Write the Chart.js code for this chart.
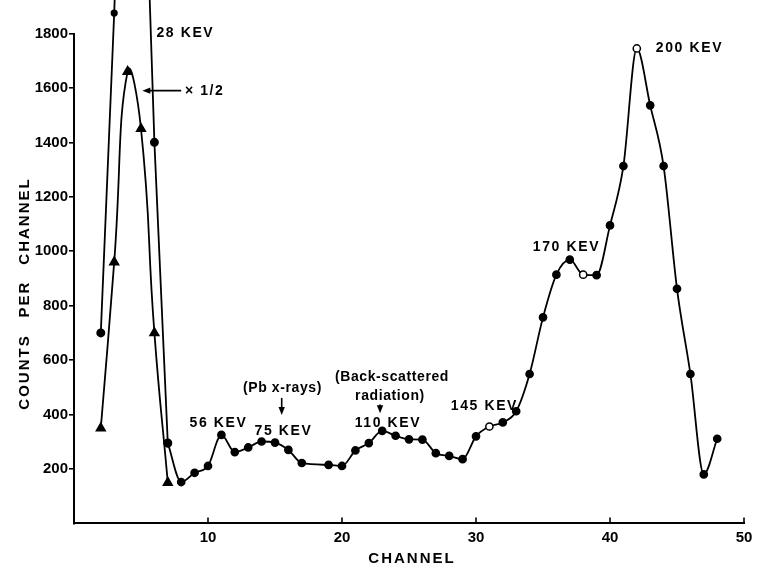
<!DOCTYPE html>
<html><head><meta charset="utf-8">
<script src="https://cdn.jsdelivr.net/npm/chart.js@4/dist/chart.umd.min.js"></script>
<style>html,body{margin:0;padding:0;background:#fff}#wrap{width:760px;height:572px}</style>
</head><body><div id="wrap"><canvas id="c" width="760" height="572"></canvas></div>
<script>
// ---- data ----
const channels = [2,3,4,5,6,7,8,9,10,11,12,13,14,15,16,17,19,20,21,22,23,24,25,26,27,28,29,30,31,32,33,34,35,36,37,38,39,40,41,42,43,44,45,46,47,48];
const counts   = [700,1875,3300,2900,1400,295,152,186,211,325,262,279,301,297,270,222,215,211,268,295,340,322,309,308,258,248,236,320,356,371,412,549,757,914,969,914,912,1095,1313,1745,1536,1313,862,549,180,311];
const halfChannels = [2,3,4,5,6,7];
const halfCounts   = [350,960,1660,1450,700,150];
const xTickValues = [10,20,30,40,50];
const yTickValues = [200,400,600,800,1000,1200,1400,1600,1800];
const openMarkerChannels = [31,38,42];
const peakLabels = [
  {text:'28 KEV', ch:6.15, v:1802, align:'left'},
  {text:'56 KEV', ch:10.78, v:369, align:'center'},
  {text:'75 KEV', ch:15.63, v:339, align:'center'},
  {text:'(Pb x-rays)', ch:15.56, v:497, align:'center'},
  {text:'(Back-scattered', ch:23.73, v:538, align:'center'},
  {text:'radiation)', ch:23.58, v:468, align:'center'},
  {text:'110 KEV', ch:23.43, v:369, align:'center'},
  {text:'145 KEV', ch:30.63, v:432, align:'center'},
  {text:'170 KEV', ch:36.75, v:1016, align:'center'},
  {text:'200 KEV', ch:45.93, v:1747, align:'center'},
  {text:'× 1/2', ch:8.28, v:1590, align:'left'}
];
// arrows: [fromCh, fromV, toCh, toV]
const arrows = [
  [8.0,1590,5.1,1590],
  [15.5,461,15.5,398],
  [22.84,437,22.84,405]
];

const FONT = '"Liberation Sans", Arial, sans-serif';
const pts = (xs, ys) => xs.map((x,i)=>({x:x, y:ys[i]}));
const all = pts(channels, counts);
const splitIdx = channels.indexOf(7);
const leftPart = all.slice(0, splitIdx+1);
const mainPart = all.slice(splitIdx);

const overlay = {
  id:'overlay',
  afterDatasetsDraw(chart){
    // markers that sit above the top of the y axis (Chart.js skips them)
    const {ctx, chartArea:a} = chart;
    ctx.save(); ctx.fillStyle = '#000';
    chart.getDatasetMeta(0).data.forEach(el=>{
      if (el.y < a.top && el.y > -4) { ctx.beginPath(); ctx.arc(el.x, el.y, 3.6, 0, Math.PI*2); ctx.fill(); }
    });
    ctx.restore();
  },
  afterDraw(chart){
    const {ctx, chartArea:a, scales:{x, y}} = chart;
    ctx.save();
    ctx.strokeStyle = '#000'; ctx.fillStyle = '#000';
    ctx.lineWidth = 1.6;
    xTickValues.forEach(v=>{
      const px = x.getPixelForValue(v);
      ctx.beginPath(); ctx.moveTo(px, a.bottom); ctx.lineTo(px, a.bottom-6); ctx.stroke();
    });
    ctx.font = 'bold 14px ' + FONT;
    ctx.textBaseline = 'middle';
    peakLabels.forEach(l=>{
      ctx.letterSpacing = /[a-z]/.test(l.text) ? '0.6px' : '1.6px';
      ctx.textAlign = l.align;
      ctx.fillText(l.text, x.getPixelForValue(l.ch), y.getPixelForValue(l.v));
    });
    ctx.lineWidth = 1.6;
    arrows.forEach(([c1,v1,c2,v2])=>{
      const x1=x.getPixelForValue(c1), y1=y.getPixelForValue(v1), x2=x.getPixelForValue(c2), y2=y.getPixelForValue(v2);
      const ang = Math.atan2(y2-y1, x2-x1);
      ctx.beginPath(); ctx.moveTo(x1,y1); ctx.lineTo(x2-Math.cos(ang)*4, y2-Math.sin(ang)*4); ctx.stroke();
      ctx.beginPath();
      ctx.moveTo(x2,y2);
      ctx.lineTo(x2-Math.cos(ang)*8+Math.sin(ang)*3.2, y2-Math.sin(ang)*8-Math.cos(ang)*3.2);
      ctx.lineTo(x2-Math.cos(ang)*8-Math.sin(ang)*3.2, y2-Math.sin(ang)*8+Math.cos(ang)*3.2);
      ctx.closePath(); ctx.fill();
    });
    ctx.font = 'bold 15px ' + FONT;
    ctx.letterSpacing = '2px';
    ctx.textAlign = 'center';
    ctx.fillText('CHANNEL', 412, a.bottom + 35);
    ctx.save();
    ctx.translate(25, 0);
    ctx.rotate(-Math.PI/2);
    ctx.fillText('CHANNEL', -221, 0);
    ctx.fillText('PER', -299, 0);
    ctx.fillText('COUNTS', -372, 0);
    ctx.restore();
    ctx.restore();
  }
};

new Chart(document.getElementById('c'), {
  type:'line',
  data:{
    datasets:[
      {data:leftPart, borderColor:'#000', borderWidth:1.8, tension:0, pointRadius:3.6,
       pointBackgroundColor:'#000', pointBorderColor:'#000', clip:{left:5,top:40,right:5,bottom:5}},
      {data:mainPart, borderColor:'#000', borderWidth:1.8, cubicInterpolationMode:'monotone', pointRadius:3.6,
       pointBorderColor:'#000', pointBorderWidth:1.5,
       pointBackgroundColor: c => (c.raw && openMarkerChannels.includes(c.raw.x)) ? '#fff' : '#000'},
      {data:pts(halfChannels, halfCounts), borderColor:'#000', borderWidth:1.8, tension:0.5,
       pointStyle:'triangle', pointRadius:4.8, pointBackgroundColor:'#000', pointBorderColor:'#000'}
    ]
  },
  options:{
    responsive:false, animation:false, devicePixelRatio:1, events:[],
    layout:{padding:{top:33.5, right:16, left:0, bottom:0}},
    plugins:{legend:{display:false}, tooltip:{enabled:false}},
    scales:{
      x:{type:'linear', min:0, max:50,
         afterFit: s=>{ s.height = 48.6; },
         afterBuildTicks: s=>{ s.ticks = [0].concat(xTickValues).map(v=>({value:v})); },
         ticks:{callback:v=> v===0 ? '' : v, color:'#000', font:{family:FONT, size:15, weight:'bold'}, padding:5, maxRotation:0},
         grid:{display:true, drawOnChartArea:false, drawTicks:false, color:'rgba(0,0,0,0)'},
         border:{display:true, color:'#000', width:2}},
      y:{type:'linear', min:0, max:1800,
         afterFit: s=>{ s.width = 74; },
         afterBuildTicks: s=>{ s.ticks = [0].concat(yTickValues).map(v=>({value:v})); },
         ticks:{callback:v=> v===0 ? '' : v, color:'#000', font:{family:FONT, size:15, weight:'bold'}, padding:1},
         grid:{display:true, drawOnChartArea:false, drawTicks:true, tickLength:5, lineWidth:1.6,
               color: c => (c.tick && c.tick.value===0) ? 'rgba(0,0,0,0)' : '#000'},
         border:{display:true, color:'#000', width:2}}
    }
  },
  plugins:[overlay]
});
</script></body></html>
